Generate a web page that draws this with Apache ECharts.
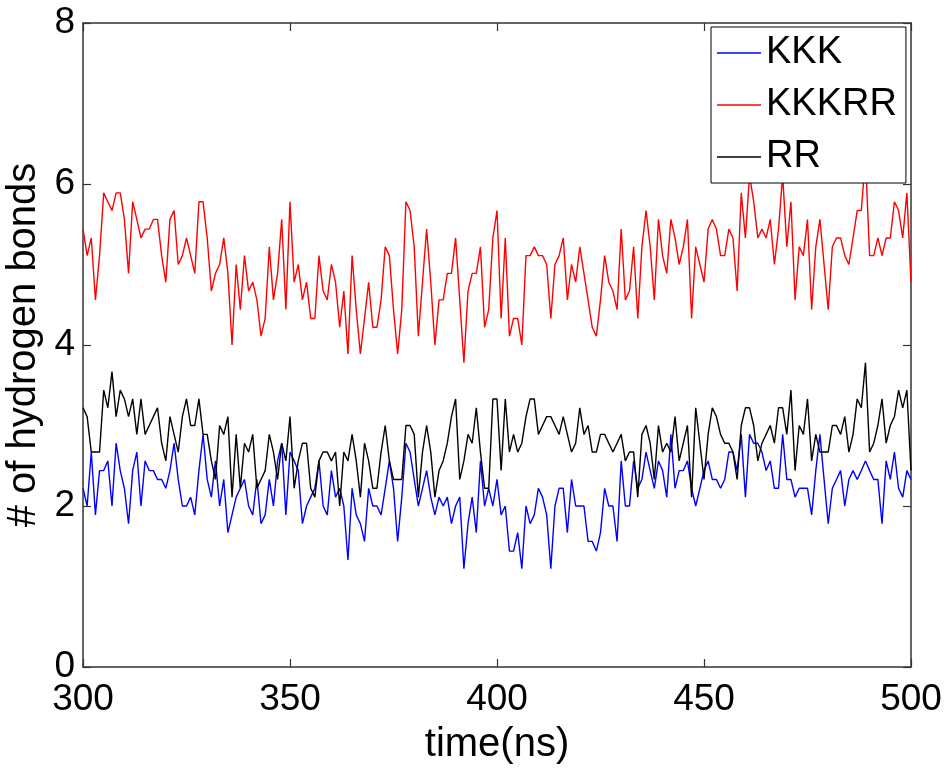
<!DOCTYPE html>
<html>
<head>
<meta charset="utf-8">
<script src="https://cdn.jsdelivr.net/npm/echarts@6/dist/echarts.min.js"></script>
<style>
  html, body { margin: 0; padding: 0; background: #fff; }
  #main { width: 947px; height: 769px; }
</style>
</head>
<body>
<div id="main"></div>
<script>
// legend names
const names = ["KKK", "KKKRR", "RR"];
// sampling: one frame per ns from 300 to 500
const tStart = 300;
const tStep = 1;

const kkk = [
  2.22, 2.0, 2.67, 1.89, 2.44, 2.44, 2.56, 2.0, 2.78, 2.44,
  2.22, 1.78, 2.44, 2.67, 2.0, 2.56, 2.44, 2.44, 2.33, 2.33,
  2.22, 2.44, 2.78, 2.33, 2.0, 2.0, 2.11, 1.89, 2.44, 2.89,
  2.33, 2.11, 2.56, 2.0, 2.33, 1.67, 1.89, 2.11, 2.22, 2.33,
  2.0, 1.89, 2.33, 1.78, 1.89, 2.33, 2.0, 2.56, 2.78, 1.89,
  2.67, 2.56, 2.44, 1.78, 2.0, 2.11, 2.22, 2.56, 2.0, 1.89,
  2.44, 2.11, 2.22, 2.0, 1.33, 2.22, 1.89, 1.78, 1.56, 2.22,
  2.0, 2.0, 1.89, 2.22, 2.56, 2.22, 1.56, 2.11, 2.78, 2.67,
  2.33, 2.0, 2.22, 2.44, 2.11, 1.89, 2.11, 2.0, 2.11, 1.78,
  2.0, 2.11, 1.22, 1.78, 2.11, 1.67, 2.56, 2.0, 2.22, 2.0,
  2.33, 1.89, 2.0, 1.44, 1.44, 1.67, 1.22, 2.0, 1.78, 1.89,
  2.22, 2.11, 1.89, 1.22, 2.0, 2.22, 2.22, 1.67, 2.33, 2.0,
  2.0, 2.0, 1.56, 1.56, 1.44, 1.67, 2.22, 2.0, 2.0, 1.56,
  2.56, 2.0, 2.0, 2.56, 2.22, 2.33, 2.67, 2.44, 2.22, 2.56,
  2.44, 2.11, 2.89, 2.22, 2.44, 2.44, 2.56, 2.22, 2.0, 2.22,
  2.44, 2.56, 2.33, 2.33, 2.22, 2.33, 2.67, 2.67, 2.44, 2.89,
  2.11, 2.89, 2.78, 2.78, 2.67, 2.44, 2.56, 2.22, 2.22, 2.89,
  2.33, 2.33, 2.11, 2.22, 2.22, 2.22, 1.89, 2.44, 2.89, 2.33,
  1.78, 2.22, 2.33, 2.44, 2.0, 2.33, 2.44, 2.33, 2.44, 2.56,
  2.44, 2.33, 2.33, 1.78, 2.56, 2.33, 2.67, 2.22, 2.11, 2.44,
  2.33
];

const kkkrr = [
  5.44, 5.11, 5.33, 4.56, 5.11, 5.89, 5.78, 5.67, 5.89, 5.89,
  5.56, 4.89, 5.78, 5.56, 5.33, 5.44, 5.44, 5.56, 5.56, 5.11,
  4.78, 5.56, 5.67, 5.0, 5.11, 5.33, 5.11, 4.89, 5.78, 5.78,
  5.33, 4.67, 4.89, 5.0, 5.33, 4.89, 4.0, 5.0, 4.44, 5.11,
  4.67, 4.78, 4.56, 4.11, 4.33, 5.22, 4.56, 4.89, 5.56, 4.44,
  5.78, 4.78, 5.0, 4.56, 4.78, 4.33, 4.33, 5.11, 4.67, 4.56,
  5.0, 4.78, 4.22, 4.67, 3.89, 5.11, 4.44, 3.89, 4.33, 4.78,
  4.22, 4.22, 4.56, 5.22, 5.11, 4.44, 3.89, 4.44, 5.78, 5.67,
  5.22, 4.11, 4.78, 5.44, 4.78, 4.0, 4.56, 4.56, 4.89, 4.89,
  5.33, 4.56, 3.78, 4.67, 4.89, 4.89, 5.22, 4.22, 4.44, 5.33,
  5.67, 4.33, 5.33, 4.11, 4.33, 4.33, 4.0, 5.11, 5.11, 5.22,
  5.11, 5.11, 5.0, 4.33, 5.0, 5.11, 5.33, 4.56, 5.0, 4.78,
  5.22, 4.89, 4.56, 4.22, 4.11, 4.56, 5.11, 4.78, 4.67, 4.44,
  5.44, 4.56, 4.67, 5.22, 4.33, 5.22, 5.67, 5.22, 4.56, 5.56,
  5.11, 4.89, 5.56, 5.33, 5.0, 5.22, 5.56, 4.33, 5.22, 5.0,
  4.78, 5.44, 5.56, 5.44, 5.11, 5.11, 5.44, 5.33, 4.67, 5.89,
  5.33, 6.11, 5.78, 5.33, 5.44, 5.33, 5.56, 5.0, 5.44, 6.11,
  5.22, 5.78, 4.56, 5.22, 5.11, 5.56, 4.44, 5.22, 5.56, 5.0,
  4.44, 5.22, 5.33, 5.33, 5.11, 5.0, 5.33, 5.67, 5.67, 6.33,
  5.11, 5.11, 5.33, 5.11, 5.33, 5.33, 5.78, 5.67, 5.33, 5.89,
  4.78
];

const rr = [
  3.22, 3.11, 2.67, 2.67, 2.67, 3.44, 3.22, 3.67, 3.11, 3.44,
  3.33, 3.11, 3.33, 2.89, 3.33, 2.89, 3.0, 3.11, 3.22, 2.78,
  2.56, 3.11, 2.89, 2.67, 3.11, 3.33, 3.0, 3.0, 3.33, 2.89,
  2.89, 2.56, 2.33, 3.0, 2.89, 3.11, 2.11, 2.89, 2.22, 2.78,
  2.67, 2.89, 2.22, 2.33, 2.44, 2.89, 2.67, 2.33, 2.78, 2.56,
  3.11, 2.22, 2.56, 2.78, 2.78, 2.22, 2.11, 2.56, 2.67, 2.67,
  2.56, 2.67, 2.0, 2.67, 2.56, 2.89, 2.56, 2.11, 2.78, 2.56,
  2.22, 2.22, 2.67, 3.0, 2.56, 2.33, 2.33, 2.33, 3.0, 3.0,
  2.89, 2.11, 2.67, 3.0, 2.67, 2.11, 2.44, 2.56, 2.78, 3.11,
  3.33, 2.33, 2.56, 2.89, 2.78, 3.22, 2.67, 2.22, 2.22, 3.33,
  3.33, 2.44, 3.33, 2.67, 2.89, 2.67, 2.78, 3.11, 3.33, 3.33,
  2.89, 3.0, 3.11, 3.11, 3.0, 2.89, 3.11, 2.89, 2.67, 2.78,
  3.22, 2.89, 3.0, 2.67, 2.67, 2.89, 2.89, 2.78, 2.67, 2.78,
  2.89, 2.56, 2.67, 2.67, 2.11, 2.89, 3.0, 2.78, 2.33, 3.0,
  2.67, 2.78, 2.67, 3.11, 2.56, 2.78, 3.0, 2.11, 3.22, 2.78,
  2.33, 2.89, 3.22, 3.11, 2.89, 2.78, 2.78, 2.67, 2.33, 3.0,
  3.22, 3.22, 3.0, 2.56, 2.78, 2.89, 3.0, 2.78, 3.22, 3.22,
  2.89, 3.44, 2.44, 3.0, 2.89, 3.33, 2.56, 2.89, 2.67, 2.67,
  2.67, 3.0, 3.0, 2.89, 3.11, 2.67, 2.89, 3.33, 3.22, 3.78,
  2.67, 2.78, 3.0, 3.33, 2.78, 3.0, 3.11, 3.44, 3.22, 3.44,
  2.44
];

const colors = ["#0000ff", "#ff0000", "#000000"];
const font = "Liberation Sans, Arial, Helvetica, sans-serif";

function pairs(values) {
  return values.map((v, i) => [tStart + i * tStep, v]);
}

let chart = echarts.init(document.getElementById("main"));

const axisLine = { show: true, onZero: false, lineStyle: { color: "#333", width: 1.5 } };
const tick = { show: true, inside: true, length: 8, lineStyle: { color: "#333", width: 1.2 } };

let option = {
  animation: false,
  backgroundColor: "#fff",
  color: colors,
  grid: { left: 83, right: 36, top: 23, bottom: 102, containLabel: false, outerBoundsMode: "none" },
  legend: {
    data: names,
    orient: "vertical",
    left: 711,
    top: 27,
    icon: "rect",
    itemWidth: 44,
    itemHeight: 1.5,
    itemGap: 14,
    padding: [7, 9, 7, 6],
    borderColor: "#000",
    borderWidth: 1,
    backgroundColor: "#fff",
    textStyle: { color: "#000", fontSize: 38, fontFamily: font }
  },
  xAxis: [
    {
      type: "value",
      min: 300,
      max: 500,
      interval: 50,
      name: "time(ns)",
      nameLocation: "middle",
      nameGap: 58,
      nameTextStyle: { color: "#000", fontSize: 40, fontFamily: font },
      axisLine: axisLine,
      axisTick: tick,
      splitLine: { show: false },
      axisLabel: { color: "#000", fontSize: 37, fontFamily: font, margin: 14 }
    },
    {
      type: "value",
      position: "top",
      min: 300,
      max: 500,
      interval: 50,
      axisLine: axisLine,
      axisTick: tick,
      splitLine: { show: false },
      axisLabel: { show: false }
    }
  ],
  yAxis: [
    {
      type: "value",
      min: 0,
      max: 8,
      interval: 2,
      name: "# of hydrogen bonds",
      nameLocation: "middle",
      nameGap: 36,
      nameTextStyle: { color: "#000", fontSize: 40, fontFamily: font },
      axisLine: axisLine,
      axisTick: tick,
      splitLine: { show: false },
      axisLabel: { color: "#000", fontSize: 37, fontFamily: font, margin: 8 }
    },
    {
      type: "value",
      position: "right",
      min: 0,
      max: 8,
      interval: 2,
      axisLine: axisLine,
      axisTick: tick,
      splitLine: { show: false },
      axisLabel: { show: false }
    }
  ],
  series: [
    { name: names[0], type: "line", data: pairs(kkk), showSymbol: false, symbol: "none", lineStyle: { width: 1.4 } },
    { name: names[1], type: "line", data: pairs(kkkrr), showSymbol: false, symbol: "none", lineStyle: { width: 1.4 } },
    { name: names[2], type: "line", data: pairs(rr), showSymbol: false, symbol: "none", lineStyle: { width: 1.4 } }
  ]
};

chart.setOption(option);
</script>
</body>
</html>
